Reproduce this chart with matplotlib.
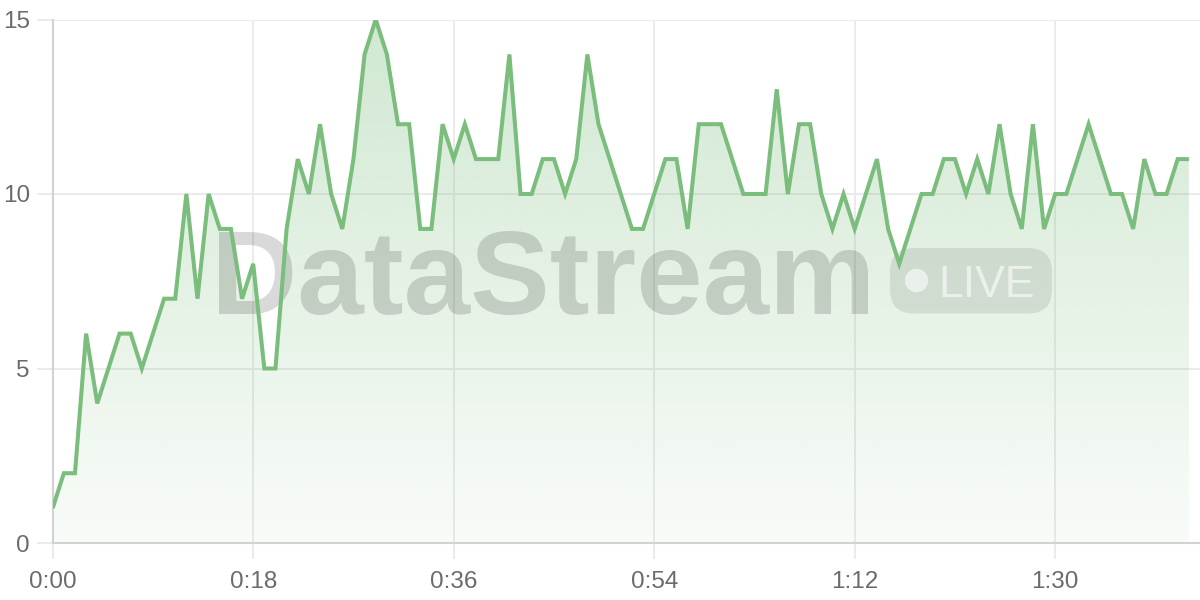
import numpy as np
import matplotlib.pyplot as plt
from matplotlib.colors import to_rgb
from matplotlib.patches import FancyBboxPatch, Circle, PathPatch
from matplotlib.transforms import IdentityTransform

# data: one sample per second
values = [1, 2, 2, 6, 4, 5, 6, 6, 5, 6,
          7, 7, 10, 7, 10, 9, 9, 7, 8, 5,
          5, 9, 11, 10, 12, 10, 9, 11, 14, 15,
          14, 12, 12, 9, 9, 12, 11, 12, 11, 11,
          11, 14, 10, 10, 11, 11, 10, 11, 14, 12,
          11, 10, 9, 9, 10, 11, 11, 9, 12, 12,
          12, 11, 10, 10, 10, 13, 10, 12, 12, 10,
          9, 10, 9, 10, 11, 9, 8, 9, 10, 10,
          11, 11, 10, 11, 10, 12, 10, 9, 12, 9,
          10, 10, 11, 12, 11, 10, 10, 9, 11, 10,
          10, 11, 11]
seconds = np.arange(len(values))
x_ticks = [0, 18, 36, 54, 72, 90]
x_labels = ["0:00", "0:18", "0:36", "0:54", "1:12", "1:30"]
y_ticks = [0, 5, 10, 15]

line_color = "#7abd7c"
grid_color = "#ebebeb"
axis_color = "#d2d2d2"
label_color = "#6b6b6b"

plt.rcParams['font.family'] = ['Liberation Sans', 'DejaVu Sans']

fig = plt.figure(figsize=(12, 6), dpi=100)
ax = fig.add_axes([52.7 / 1200, 57 / 600, 1 - 52.7 / 1200, (543 - 19.5) / 600])

# gradient area under the line
grad = np.zeros((256, 1, 4))
grad[..., :3] = to_rgb(line_color)
grad[:, 0, 3] = np.linspace(0.05, 0.35, 256)
im = ax.imshow(grad, extent=[0, 103, 0, 15], origin='lower', aspect='auto',
               interpolation='bilinear', zorder=1)
area = ax.fill_between(seconds, values, 0, color='none', linewidth=0)
clip = PathPatch(area.get_paths()[0], transform=ax.transData,
                 facecolor='none', edgecolor='none')
ax.add_patch(clip)
im.set_clip_path(clip)

ax.plot(seconds, values, color=line_color, linewidth=2.9,
        solid_joinstyle='miter', solid_capstyle='butt', zorder=4)

# watermark
ax.text(211, 286, "DataStream", transform=IdentityTransform(),
        fontsize=86, fontweight='bold', color='black', alpha=0.15,
        ha='left', va='baseline', zorder=3)
badge = FancyBboxPatch((890, 286.5), 162, 65.5, transform=IdentityTransform(),
                       boxstyle='round,pad=0,rounding_size=24',
                       facecolor='black', alpha=0.09, edgecolor='none', zorder=3)
ax.add_artist(badge)
ax.add_artist(Circle((916.5, 319.5), 11.7, transform=IdentityTransform(),
                     facecolor='white', alpha=0.6, edgecolor='none', zorder=3))
ax.text(938, 303, "LIVE", transform=IdentityTransform(),
        fontsize=32, color='white', alpha=0.6,
        ha='left', va='baseline', zorder=3)

ax.set_xlim(0, 103)
ax.set_ylim(0, 15)
ax.set_xticks(x_ticks)
ax.set_xticklabels(x_labels)
ax.set_yticks(y_ticks)
ax.grid(True, color=grid_color, linewidth=1.4, zorder=0)
ax.set_axisbelow(True)
for s in ['top', 'right']:
    ax.spines[s].set_visible(False)
for s in ['left', 'bottom']:
    ax.spines[s].set_color(axis_color)
    ax.spines[s].set_linewidth(1.5)
ax.tick_params(axis='both', length=11.5, width=1.4, color=grid_color,
               labelsize=17.5, labelcolor=label_color)
ax.tick_params(axis='x', pad=9)
ax.tick_params(axis='y', pad=5)

fig.savefig("out.png", dpi=100)
